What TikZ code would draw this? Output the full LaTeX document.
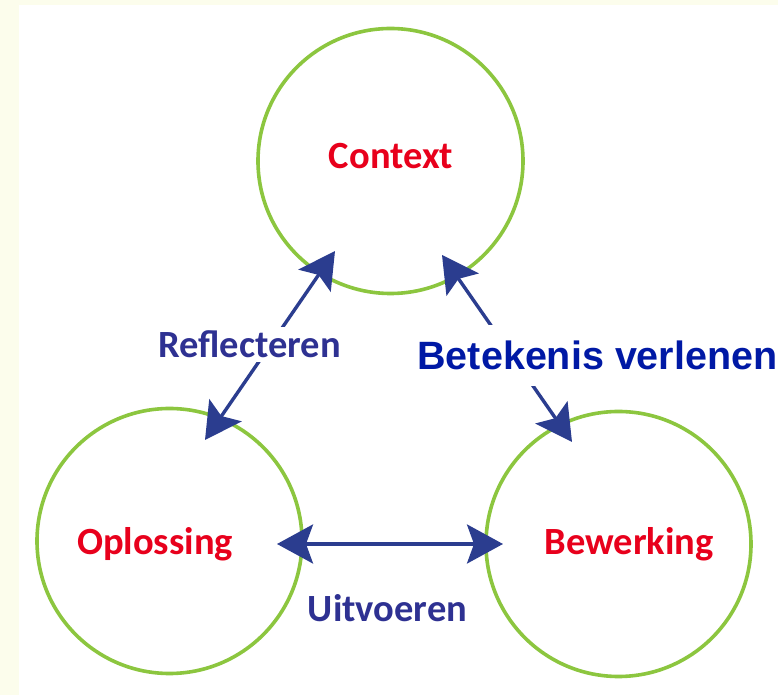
\documentclass[tikz,border=0pt]{standalone}
\usepackage{fontspec}
\setmainfont{Carlito}
\newfontfamily\arialfont{Liberation Sans}
\usetikzlibrary{arrows.meta}
\definecolor{cream}{HTML}{FCFDEC}
\definecolor{cgreen}{HTML}{8CC63F}
\definecolor{cred}{HTML}{E8001C}
\definecolor{tblue}{HTML}{2E3192}
\definecolor{ablue}{HTML}{2B3D8F}
\definecolor{bblue}{HTML}{0019A5}
\begin{document}
\begin{tikzpicture}[x=1pt,y=1pt,
  circ/.style={circle, draw=cgreen, line width=3.6pt, minimum size=265pt, inner sep=0pt},
  conc/.style={text=cred, font=\bfseries\fontsize{38.5}{40}\selectfont, anchor=base, inner sep=0pt},
  act/.style={text=tblue, font=\bfseries\fontsize{38.5}{40}\selectfont, anchor=base, fill=white, inner xsep=2pt, inner ysep=4pt},
  arr/.style={line width=3.4pt, draw=ablue, {Stealth[length=36pt,width=39pt,inset=7pt]}-{Stealth[length=36pt,width=39pt,inset=7pt]}}
]
\fill[cream] (0,0) rectangle (778,695);
\fill[white] (19,0) rectangle (778,690);
\useasboundingbox (0,0) rectangle (778,695);

\node[circ] (ctx) at (390.5,534) {};
\node[circ] (opl) at (169.5,154) {};
\node[circ] (bew) at (618.5,151) {};

\node[conc] (tctx) at (391,526) {Context};
\node[conc] (topl) at (155,140) {Oplossing};
\node[conc] (tbew) at (629,140) {Bewerking};

\coordinate (r1) at (335,444);
\coordinate (r2) at (205,255);
\coordinate (b1) at (442,440);
\coordinate (b2) at (572,253);
\coordinate (u1) at (277,151);
\coordinate (u2) at (503,151);

\draw[arr] (r1) -- (r2);
\draw[arr] (b1) -- (b2);
\draw[arr] (u1) -- (u2);

\node[act] (refl) at (249.5,337) {Reflecteren};
\node[act, fill=none] (uitv) at (387.5,73) {Uitvoeren};
\node[text=bblue, font=\arialfont\bfseries\fontsize{39.5}{42}\selectfont, anchor=base, fill=white, inner xsep=2pt, inner ysep=16pt] (bet) at (597.5,325) {Betekenis verlenen};
\end{tikzpicture}
\end{document}
